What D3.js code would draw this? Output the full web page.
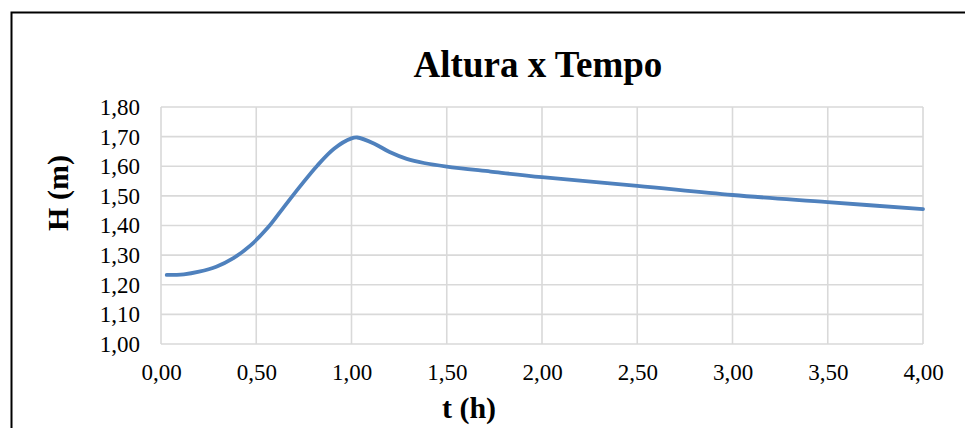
<!DOCTYPE html>
<html>
<head>
<meta charset="utf-8">
<script src="https://cdn.jsdelivr.net/npm/d3@7"></script>
<style>
  html, body { margin: 0; padding: 0; background: #fff; }
  svg { display: block; }
  .axis path, .axis line { display: none; }
  .axis text { font-family: "Liberation Serif", "Times New Roman", serif; font-size: 23px; fill: #000; }
</style>
</head>
<body>
<div id="chart"></div>
<script>
// Values
const tHours = [0.03, 0.12, 0.20, 0.29, 0.38, 0.47, 0.56, 0.64, 0.73, 0.82, 0.91, 1.00, 1.03,
                1.12, 1.20, 1.29, 1.38, 1.50, 1.73, 2.00, 2.50, 3.00, 3.50, 4.00];
const heights = [1.233, 1.235, 1.244, 1.261, 1.290, 1.333, 1.392, 1.458, 1.532, 1.602, 1.660, 1.694, 1.697,
                 1.676, 1.648, 1.625, 1.611, 1.599, 1.582, 1.563, 1.534, 1.503, 1.479, 1.455];
const xTicks = [0, 0.5, 1, 1.5, 2, 2.5, 3, 3.5, 4];
const yTicks = [1.0, 1.1, 1.2, 1.3, 1.4, 1.5, 1.6, 1.7, 1.8];

const WIDTH = 965;
const HEIGHT = 428;
const plot = { left: 161, right: 923, top: 107, bottom: 344 };

const fmt = v => v.toFixed(2).replace('.', ',');

const svg = d3.select('#chart')
  .append('svg')
  .attr('width', WIDTH)
  .attr('height', HEIGHT);

// Outer chart frame (right and bottom fall outside the picture)
svg.append('rect')
  .attr('x', 11.5).attr('y', 12.5)
  .attr('width', 1000).attr('height', 500)
  .attr('fill', 'none')
  .attr('stroke', '#000')
  .attr('stroke-width', 2);

const x = d3.scaleLinear().domain([0, 4]).range([plot.left, plot.right]);
const y = d3.scaleLinear().domain([1.0, 1.8]).range([plot.bottom, plot.top]);

// Gridlines
const grid = svg.append('g').attr('stroke', '#d9d9d9').attr('stroke-width', 1.6);
grid.selectAll('.gx').data(xTicks).join('line')
  .attr('x1', d => x(d)).attr('x2', d => x(d))
  .attr('y1', plot.top).attr('y2', plot.bottom);
grid.selectAll('.gy').data(yTicks).join('line')
  .attr('x1', plot.left).attr('x2', plot.right)
  .attr('y1', d => y(d)).attr('y2', d => y(d));

// Axes
svg.append('g')
  .attr('class', 'axis')
  .attr('transform', `translate(0,${plot.bottom})`)
  .call(d3.axisBottom(x).tickValues(xTicks).tickFormat(fmt).tickSize(0).tickPadding(20));

svg.append('g')
  .attr('class', 'axis')
  .attr('transform', `translate(${plot.left},0)`)
  .call(d3.axisLeft(y).tickValues(yTicks).tickFormat(fmt).tickSize(0).tickPadding(21));

// Series line
const data = tHours.map((t, i) => ({ t, h: heights[i] }));
const line = d3.line()
  .x(d => x(d.t))
  .y(d => y(d.h))
  .curve(d3.curveCatmullRom.alpha(0.5));

svg.append('path')
  .datum(data)
  .attr('fill', 'none')
  .attr('stroke', '#4f81bd')
  .attr('stroke-width', 3.8)
  .attr('stroke-linecap', 'round')
  .attr('stroke-linejoin', 'round')
  .attr('d', line);

// Title and axis titles
const serif = '"Liberation Serif", "Times New Roman", serif';

svg.append('text')
  .attr('x', 538).attr('y', 77)
  .attr('text-anchor', 'middle')
  .attr('font-family', serif)
  .attr('font-weight', 'bold')
  .attr('font-size', '37px')
  .text('Altura x Tempo');

svg.append('text')
  .attr('transform', 'translate(68,193) rotate(-90)')
  .attr('text-anchor', 'middle')
  .attr('font-family', serif)
  .attr('font-weight', 'bold')
  .attr('font-size', '30px')
  .text('H (m)');

svg.append('text')
  .attr('x', 469).attr('y', 418)
  .attr('text-anchor', 'middle')
  .attr('font-family', serif)
  .attr('font-weight', 'bold')
  .attr('font-size', '30px')
  .text('t (h)');
</script>
</body>
</html>
